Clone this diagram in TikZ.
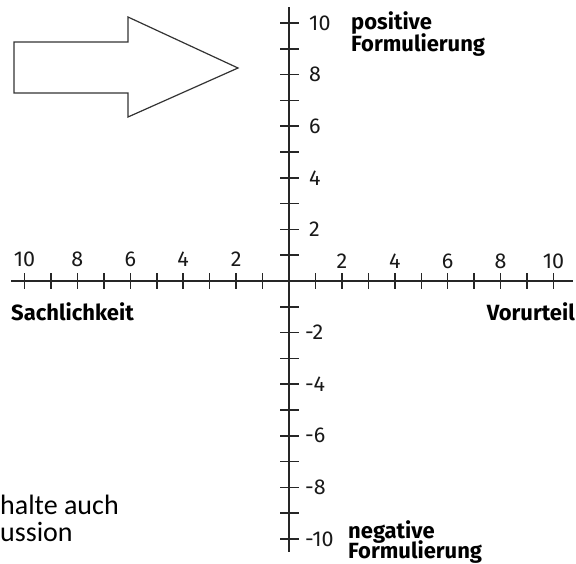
\documentclass[tikz,border=0pt]{standalone}
\usepackage{fontspec}
\setsansfont{Fira Sans}
\newfontfamily\calfont{Carlito}
\begin{document}
\begin{tikzpicture}[x=1pt,y=-1pt,
  axisline/.style={line width=1.8pt,black!85},
  tickmark/.style={line width=1.5pt,black!85},
  num/.style={font=\sffamily\fontsize{21.5}{21.5}\selectfont, inner sep=0pt, text=black!90},
  lab/.style={font=\sffamily\bfseries\fontsize{22}{22}\selectfont, inner sep=0pt},
  body/.style={font=\calfont\fontsize{28}{30}\selectfont, inner sep=0pt}]
\useasboundingbox (0,0) rectangle (576,563);
\fill[white] (0,0) rectangle (576,563);
% big outline arrow
\draw[line width=1.2pt, black!80, line join=miter]
  (14,42) -- (128,42) -- (128,17) -- (238,68) -- (128,117) -- (128,93) -- (14,93) -- cycle;
% axes
\coordinate (xl) at (11,281);
\coordinate (xr) at (573,281);
\coordinate (yt) at (289,7);
\coordinate (yb) at (289,552);
\draw[axisline] (xl) -- (xr);
\draw[axisline] (yt) -- (yb);
% ticks
\foreach \i in {1,...,10} {
  \draw[tickmark] ({289+26.45*\i},273) -- ++(0,16);
  \draw[tickmark] ({289-26.45*\i},273) -- ++(0,16);
  \draw[tickmark] (280,{281-25.8*\i}) -- ++(19,0);
  \draw[tickmark] (280,{281+25.8*\i}) -- ++(19,0);
}
% tick labels
\foreach \i in {2,4,...,10} {
  \node[num] (hr\i) at ({289+26.45*\i},261) {\i};
  \node[num] (hl\i) at ({289-26.45*\i},259) {\i};
  \node[num,anchor=west] (vp\i) at (309,{281-25.8*\i}) {\i};
  \node[num,anchor=west] (vn\i) at (305,{281+25.8*\i}) {-\i};
}
% axis names
\node[lab,anchor=base west] (pos1) at (351,29) {positive};
\node[lab,anchor=base west] (pos2) at (351,51) {Formulierung};
\node[lab,anchor=base west] (neg1) at (348,538) {negative};
\node[lab,anchor=base west] (neg2) at (348,558) {Formulierung};
\node[lab,anchor=base west] (sach) at (11,320) {Sachlichkeit};
\node[lab,anchor=base east] (vor) at (575,320) {Vorurteil};
% cut-off body text
\node[body,anchor=base west] (t1) at (0,514) {halte auch};
\node[body,anchor=base west] (t2) at (0,541) {ussion};
\end{tikzpicture}
\end{document}
